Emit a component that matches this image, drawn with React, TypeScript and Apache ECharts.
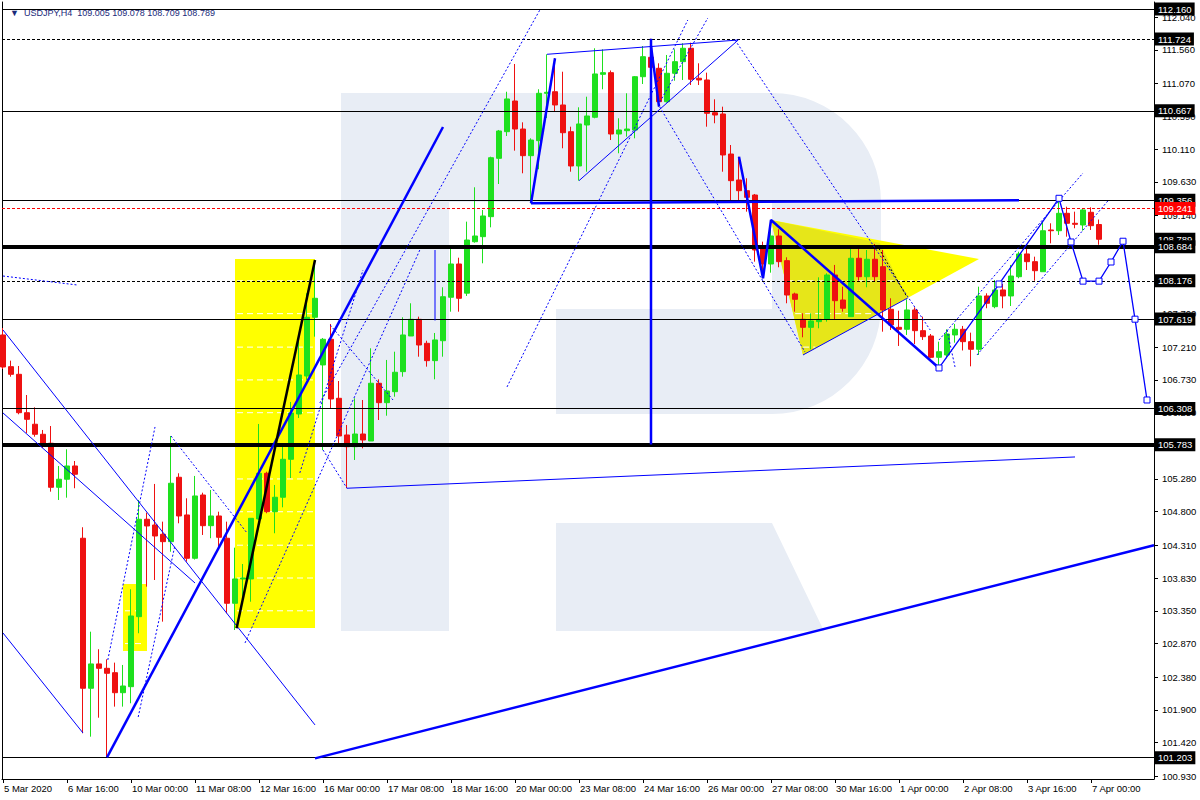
import React, { useEffect, useRef } from 'react';
import * as echarts from 'echarts';

const FONT = 'Liberation Sans';
const SYMBOL = 'USDJPY,H4';

// ---- axes ----
const X_LABELS = [
  '5 Mar 2020', '6 Mar 16:00', '10 Mar 00:00', '11 Mar 08:00', '12 Mar 16:00', '16 Mar 00:00',
  '17 Mar 08:00', '18 Mar 16:00', '20 Mar 00:00', '23 Mar 08:00', '24 Mar 16:00', '26 Mar 00:00',
  '27 Mar 08:00', '30 Mar 16:00', '1 Apr 00:00', '2 Apr 08:00', '3 Apr 16:00', '7 Apr 00:00',
];
const X_LABEL_STEP = 8; // bars between labels
const X_MIN = -0.125;
const X_MAX = 143.875;
const Y_MIN = 100.8875;
const Y_MAX = 112.2625;
const Y_TICKS = [
  100.93, 101.42, 101.9, 102.38, 102.87, 103.35, 103.83, 104.31, 104.8, 105.28, 105.76, 106.25,
  106.73, 107.21, 107.7, 108.18, 108.66, 109.14, 109.63, 110.11, 110.59, 111.07, 111.56, 112.04,
];

// ---- H4 candles (bar index 0 = 5 Mar 08:00) ----
const OPEN = [
  107.388, 106.924, 106.812, 106.25, 106.081, 105.934, 105.803, 105.158, 105.276, 105.47,
  104.412, 102.216, 102.572, 102.508, 102.444, 102.151, 102.239, 103.264, 104.69, 104.606,
  104.47, 104.362, 105.305, 104.753, 104.119, 105.045, 104.596, 104.738, 104.412, 103.46,
  103.816, 103.816, 104.694, 105.363, 104.801, 105.012, 105.568, 106.231, 106.787, 107.647,
  106.949, 107.325, 106.461, 105.924, 105.752, 105.938, 105.836, 106.681, 106.397, 106.558,
  106.851, 107.373, 107.617, 107.266, 107.012, 107.304, 107.94, 108.427, 108.0, 108.753,
  108.827, 109.12, 109.974, 110.364, 110.813, 110.403, 110.013, 110.232, 110.926, 110.949,
  110.755, 110.364, 109.862, 110.462, 110.575, 111.204, 111.228, 110.33, 110.379, 110.389,
  111.169, 111.453, 111.292, 110.803, 111.219, 111.389, 111.585, 111.146, 111.121, 110.642,
  110.623, 110.037, 109.657, 109.5, 109.437, 108.657, 108.427, 108.837, 108.476, 107.988,
  107.617, 107.5, 107.583, 107.617, 108.266, 107.9, 107.656, 108.511, 108.241, 108.496,
  108.388, 107.764, 107.5, 107.471, 107.754, 107.451, 107.373, 107.061, 107.095, 107.388,
  107.471, 107.29, 107.178, 107.959, 107.802, 108.047, 107.959, 108.241, 108.574, 108.461,
  108.314, 108.925, 108.914, 109.169, 109.023, 108.998, 109.184, 109.005,
];
const HIGH = [
  107.49, 107.012, 106.934, 106.509, 106.329, 105.997, 106.055, 105.47, 105.714, 105.543,
  104.573, 103.044, 102.787, 102.64, 102.591, 102.557, 103.665, 104.972, 104.787, 105.207,
  104.655, 105.909, 105.363, 104.997, 105.324, 105.079, 105.119, 104.801, 104.655, 104.274,
  104.035, 104.704, 106.085, 105.386, 105.192, 105.752, 106.407, 107.315, 107.998, 108.486,
  107.344, 107.549, 106.714, 106.07, 106.461, 106.436, 107.193, 106.739, 107.022, 107.143,
  107.647, 107.852, 107.656, 107.304, 107.417, 108.086, 108.657, 108.519, 109.047, 109.55,
  109.218, 109.998, 110.389, 110.949, 111.355, 110.501, 110.267, 110.985, 111.497, 111.438,
  111.242, 110.437, 110.721, 110.876, 111.585, 111.57, 111.26, 110.56, 110.926, 111.179,
  111.618, 111.724, 111.365, 111.487, 111.57, 111.658, 111.667, 111.365, 111.228, 110.838,
  110.73, 110.169, 109.998, 109.682, 109.452, 108.754, 109.071, 108.935, 108.525, 108.007,
  107.705, 107.705, 108.232, 108.291, 108.413, 108.095, 108.705, 108.68, 108.632, 108.72,
  108.632, 107.925, 107.743, 107.91, 107.793, 107.656, 107.402, 107.29, 107.471, 107.549,
  107.52, 107.422, 108.095, 107.998, 108.193, 108.134, 108.413, 108.607, 108.657, 108.534,
  109.047, 109.023, 109.389, 109.266, 109.193, 109.242, 109.257, 109.078,
];
const LOW = [
  106.89, 106.777, 106.227, 105.953, 105.899, 105.734, 105.094, 104.972, 105.006, 105.144,
  101.557, 101.507, 101.785, 101.203, 101.947, 101.947, 101.996, 103.021, 103.703, 103.801,
  103.191, 104.215, 104.631, 104.069, 104.1, 104.46, 104.412, 104.24, 103.314, 103.069,
  103.46, 103.483, 104.68, 104.778, 104.485, 104.865, 105.294, 106.173, 106.729, 107.363,
  105.704, 106.315, 105.778, 105.144, 105.558, 105.729, 105.836, 106.143, 106.206, 106.484,
  106.777, 107.373, 107.07, 106.924, 106.739, 107.07, 107.729, 107.729, 107.959, 108.739,
  108.437, 108.964, 109.598, 110.301, 110.086, 109.755, 109.316, 109.813, 110.564, 110.657,
  110.121, 109.778, 109.647, 109.778, 110.56, 110.985, 110.242, 110.048, 110.291, 110.267,
  111.062, 111.121, 110.73, 110.79, 111.11, 111.121, 111.047, 111.047, 110.437, 110.487,
  109.778, 109.339, 109.364, 109.193, 108.461, 108.218, 108.3, 108.379, 107.852, 107.729,
  107.354, 107.178, 107.486, 107.583, 107.617, 107.729, 107.656, 108.183, 108.086, 108.168,
  107.436, 107.461, 107.227, 107.388, 107.256, 107.315, 107.047, 106.924, 107.047, 107.275,
  107.161, 106.929, 107.095, 107.779, 107.779, 107.779, 107.812, 108.218, 108.339, 108.183,
  108.314, 108.73, 108.852, 108.827, 108.95, 108.915, 108.925, 108.709,
];
const CLOSE = [
  106.919, 106.812, 106.25, 106.153, 105.934, 105.803, 105.158, 105.276, 105.47, 105.349,
  102.216, 102.572, 102.508, 102.435, 102.151, 102.249, 103.274, 104.69, 104.592, 104.445,
  104.362, 105.217, 104.738, 104.119, 105.031, 104.596, 104.738, 104.426, 103.46, 103.816,
  103.83, 104.704, 105.363, 104.801, 105.012, 105.568, 106.246, 106.802, 107.647, 107.925,
  107.325, 106.451, 105.909, 105.752, 105.938, 105.85, 106.681, 106.397, 106.568, 106.842,
  107.388, 107.617, 107.241, 107.012, 107.315, 107.948, 108.427, 107.925, 108.778, 108.837,
  109.13, 109.983, 110.374, 110.843, 110.403, 110.013, 110.242, 110.926, 110.941, 110.755,
  110.349, 109.862, 110.477, 110.594, 111.209, 111.228, 110.33, 110.389, 110.403, 111.169,
  111.462, 111.307, 110.803, 111.219, 111.389, 111.585, 111.131, 111.121, 110.633, 110.608,
  110.023, 109.647, 109.5, 109.403, 108.632, 108.427, 108.837, 108.461, 107.973, 107.91,
  107.5, 107.593, 107.617, 108.266, 107.89, 107.779, 108.511, 108.241, 108.496, 108.241,
  107.754, 107.534, 107.471, 107.754, 107.451, 107.363, 107.061, 107.143, 107.402, 107.471,
  107.29, 107.178, 107.959, 107.852, 108.047, 107.959, 108.251, 108.574, 108.461, 108.329,
  108.914, 108.914, 109.169, 109.023, 109.008, 109.218, 108.988, 108.789,
];

// ---- horizontal levels (price, style) ----
const LEVEL_PRICES = [112.16, 111.724, 110.667, 109.356, 109.241, 108.789, 108.684, 108.176, 107.619, 106.308, 105.783, 101.203];
const LEVEL_KINDS = ['solid', 'dashed', 'solid', 'solid', 'red', 'none', 'thick', 'dashed', 'solid', 'solid', 'thick', 'solid'];

// ---- drawn objects in (bar index, price) ----
const YELLOW_SHAPES = [
  [[29, 108.5], [39, 108.5], [39, 103.098], [29, 103.098]],
  [[15, 103.743], [18, 103.743], [18, 102.761], [15, 102.761]],
  [[96, 109.071], [122, 108.5], [100, 107.095]],
];
const YELLOW_DARK = [[96, 109.071], [109.6, 108.734], [113, 107.93], [100, 107.095]];

const THICK_BLUE = [
  [[13, 101.203], [55, 110.433]],
  [[39, 101.19], [143.875, 104.31]],
  [[66, 109.316], [69, 111.438]],
  [[66, 109.316], [127, 109.36]],
  [[81, 111.724], [81, 105.783]],
  [[81, 111.62], [82, 110.73]],
  [[92, 109.998], [95, 108.218], [96, 109.071], [117, 106.905]],
];
const THICK_BLACK = [[[29.2, 103.094], [39, 108.486]]];
const THIN_BLUE = [
  [[43, 105.144], [134, 105.602]],
  [[0, 107.461], [39, 101.679]],
  [[0, 106.246], [24, 103.757]],
  [[0, 103.025], [10, 101.561]],
  [[68, 111.497], [91.9, 111.706]],
  [[72, 109.647], [91.9, 111.706]],
  [[100, 107.095], [113.1, 107.93]],
  [[54, 108.632], [54, 107.6]],
];
const DOTTED_BLUE = [
  [[13.1, 102.63], [19, 106.041]],
  [[16.9, 101.795], [21.5, 104.313]],
  [[21, 105.909], [30.5, 104.49]],
  [[30.25, 102.879], [52.1, 108.632]],
  [[37.1, 105.368], [45, 108.339]],
  [[40.9, 107.534], [48.75, 106.436]],
  [[40, 105.704], [43, 105.144]],
  [[39.6, 106.392], [67.1, 112.145]],
  [[63, 106.627], [85.6, 111.999]],
  [[82.1, 110.799], [88.1, 112.028]],
  [[82.1, 110.725], [100.25, 107.139]],
  [[91.5, 111.706], [115.9, 107.461]],
  [[117, 107.315], [135, 109.759]],
  [[121.75, 107.095], [138.1, 109.349]],
  [[118, 107.461], [119, 106.92]],
  [[0, 108.251], [9.25, 108.12]],
];
const DOTTED_BLACK = [[[109.25, 108.705], [113, 107.944]]];
const FORECAST = [
  [117, 106.905], [124.5, 108.134], [132, 109.389], [133.5, 108.749], [135, 108.176],
  [137, 108.176], [138.5, 108.456], [140, 108.76], [141.5, 107.619], [143, 106.436],
];

const LOGO_D =
  'M341,93 H449 V631 H341 Z ' +
  'M449,93 H772 A109,109 0 0 1 881,202 V305 A109,109 0 0 1 772,414 H556 V309 H772 V202 H449 Z ' +
  'M556,523 H772 L824,631 H556 Z';

const BLUE = '#0000FF';
const GREEN = '#1EE01E';
const RED = '#EE1111';

function lineSeries(pts: number[][], color: string, width: number, type: any, z = 5) {
  return {
    type: 'line', data: pts, showSymbol: false, symbol: 'none', silent: true, z,
    lineStyle: { color, width, type }, animation: false, xAxisIndex: 0, yAxisIndex: 0,
  };
}

export default function App() {
  const ref = useRef<HTMLDivElement>(null);
  useEffect(() => {
    if (!ref.current) return;
    try {
      echarts.graphic.registerShape('logo', echarts.graphic.extendPath(LOGO_D, {}));
    } catch (e) { /* already registered */ }
    const chart = echarts.init(ref.current, null, { renderer: 'svg' });

    const xTicks = X_LABELS.map((_, k) => k * X_LABEL_STEP);
    // tick labels fully covered by a level box are not drawn
    const yLabelValues = Y_TICKS.filter((t) => LEVEL_PRICES.every((lv) => Math.abs(lv - t) > 0.04));
    const candles = OPEN.map((o, i) => [i, o, CLOSE[i], LOW[i], HIGH[i]]);
    const last = OPEN.length - 1;

    const levelLines = LEVEL_PRICES.map((v, k) => {
      const kind = LEVEL_KINDS[k];
      const ls: any = { color: '#000', width: 1, type: 'solid' };
      if (kind === 'dashed') ls.type = [3, 2];
      if (kind === 'thick') ls.width = 4;
      if (kind === 'red') { ls.color = '#FF0000'; ls.type = [3, 2]; }
      if (kind === 'none') { ls.color = 'rgba(0,0,0,0)'; ls.width = 0.1; }
      return {
        yAxis: v,
        lineStyle: ls,
        label: {
          show: true, position: 'end', distance: 1, formatter: v.toFixed(3),
          color: '#fff', backgroundColor: kind === 'red' ? '#FF0000' : '#000',
          padding: [2, 3, 1, 3], fontSize: 9.5, fontFamily: FONT,
        },
      };
    });

    const allYellow = [...YELLOW_SHAPES, YELLOW_DARK];

    const series: any[] = [
      {
        type: 'custom', z: 1, silent: true, clip: false,
        data: allYellow.map(() => [0, 105]),
        renderItem: (params: any, api: any) => {
          const k = params.dataIndex;
          const pts = allYellow[k].map((p) => api.coord(p));
          return { type: 'polygon', shape: { points: pts }, style: { fill: k === allYellow.length - 1 ? '#E6E619' : '#FFFF00' } };
        },
      },
      {
        type: 'custom', z: 2, silent: true, clip: false,
        data: YELLOW_SHAPES.map(() => [0, 105]),
        renderItem: (params: any, api: any) => {
          const pts = YELLOW_SHAPES[params.dataIndex].map((p) => api.coord(p));
          const children: any[] = [];
          for (const t of Y_TICKS) {
            const yy = api.coord([0, t])[1];
            const xs: number[] = [];
            for (let j = 0; j < pts.length; j++) {
              const a = pts[j];
              const b = pts[(j + 1) % pts.length];
              if (a[1] === b[1]) continue;
              if ((a[1] - yy) * (b[1] - yy) <= 0) xs.push(a[0] + ((yy - a[1]) * (b[0] - a[0])) / (b[1] - a[1]));
            }
            if (xs.length >= 2) {
              const x1 = Math.min(...xs) + 2;
              const x2 = Math.max(...xs) - 2;
              if (x2 > x1) children.push({ type: 'line', shape: { x1, y1: yy, x2, y2: yy }, style: { stroke: '#fff', lineWidth: 1, lineDash: [6, 4] } });
            }
          }
          return { type: 'group', children };
        },
      },
      {
        type: 'candlestick', z: 3, data: candles, barWidth: 5, silent: true,
        itemStyle: { color: GREEN, color0: RED, borderColor: GREEN, borderColor0: RED, borderWidth: 1 },
      },
      {
        type: 'line', data: [], z: 4, silent: true,
        markLine: { symbol: ['none', 'none'], silent: true, animation: false, data: levelLines },
      },
      ...THICK_BLUE.map((p) => lineSeries(p, BLUE, 2.5, 'solid', 6)),
      ...THICK_BLACK.map((p) => lineSeries(p, '#000', 2.5, 'solid', 6)),
      ...THIN_BLUE.map((p) => lineSeries(p, BLUE, 1, 'solid', 5)),
      ...DOTTED_BLUE.map((p) => lineSeries(p, BLUE, 1, [2, 2], 5)),
      ...DOTTED_BLACK.map((p) => lineSeries(p, '#000', 1, [2, 2], 5)),
      {
        type: 'line', data: FORECAST, z: 7, silent: true, symbol: 'rect', symbolSize: 6, showSymbol: true,
        lineStyle: { color: BLUE, width: 1.3 },
        itemStyle: { color: '#fff', borderColor: BLUE, borderWidth: 1 },
      },
    ];

    const option: any = {
      animation: false,
      backgroundColor: '#fff',
      textStyle: { fontFamily: FONT },
      title: {
        text: '\u25BC  ' + SYMBOL + '  ' + [OPEN[last], HIGH[last], LOW[last], CLOSE[last]].map((v) => v.toFixed(3)).join(' '),
        left: 5, top: 3,
        textStyle: { fontSize: 9, fontWeight: 'normal', color: '#1A2A7A', fontFamily: FONT },
      },
      grid: { left: 2, right: 46, top: 2, bottom: 21, containLabel: false },
      graphic: [
        { type: 'logo', x: 0, y: 0, z: 0, silent: true, style: { fill: '#E8EDF5' } },
      ],
      xAxis: [{
        type: 'value', min: X_MIN, max: X_MAX, position: 'bottom',
        axisLine: { show: true, onZero: false, lineStyle: { color: '#000', width: 1 } },
        axisTick: { show: true, length: 4, customValues: xTicks, lineStyle: { color: '#000' } },
        axisLabel: {
          show: true, customValues: xTicks, align: 'left', margin: 4, color: '#000', fontSize: 9.5, fontFamily: FONT,
          padding: [0, 0, 0, 1],
          formatter: (v: number) => X_LABELS[Math.round(v / X_LABEL_STEP)] ?? '',
        },
        splitLine: { show: false },
      }],
      yAxis: [
        {
          type: 'value', min: Y_MIN, max: Y_MAX, position: 'right',
          axisLine: { show: true, onZero: false, lineStyle: { color: '#000', width: 1 } },
          axisTick: { show: true, length: 4, customValues: Y_TICKS, lineStyle: { color: '#000' } },
          axisLabel: {
            show: true, customValues: yLabelValues, margin: 8, color: '#000', fontSize: 9.5, fontFamily: FONT,
            formatter: (v: number) => v.toFixed(3),
          },
          splitLine: { show: false },
        },
        {
          type: 'value', min: Y_MIN, max: Y_MAX, position: 'left',
          axisLine: { show: true, onZero: false, lineStyle: { color: '#000', width: 1 } },
          axisTick: { show: false }, axisLabel: { show: false }, splitLine: { show: false },
        },
      ],
      series,
    };
    chart.setOption(option);
    return () => chart.dispose();
  }, []);
  return <div ref={ref} style={{ position: 'fixed', left: 0, top: 0, width: 1200, height: 800, background: '#fff' }} />;
}
